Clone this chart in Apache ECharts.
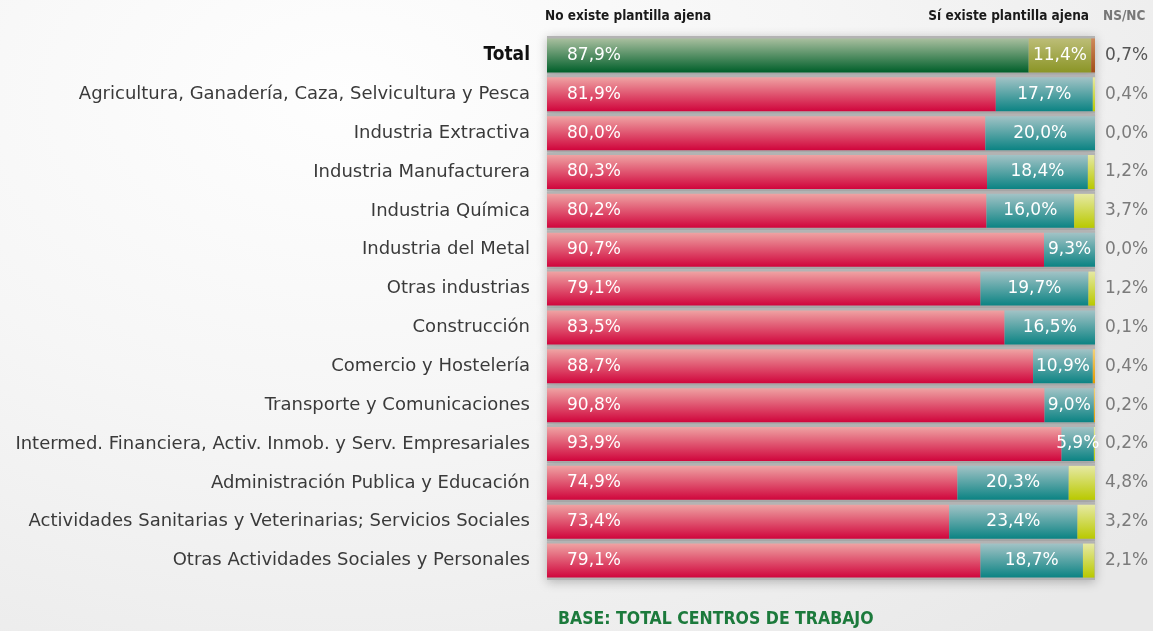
<!DOCTYPE html>
<html>
<head>
<meta charset="utf-8">
<script src="https://cdn.jsdelivr.net/npm/echarts@6/dist/echarts.min.js"></script>
<style>
  html, body { margin: 0; padding: 0; }
  body {
    width: 1153px; height: 631px; overflow: hidden;
    background: radial-gradient(ellipse 90% 110% at 30% 15%, #fefefe 0%, #f6f6f6 45%, #e9e9e9 100%);
  }
  #main { width: 1153px; height: 631px; }
</style>
</head>
<body>
<div id="main"></div>
<script>
// sectores
var categories = [
    'Total',
    'Agricultura, Ganadería, Caza, Selvicultura y Pesca',
    'Industria Extractiva',
    'Industria Manufacturera',
    'Industria Química',
    'Industria del Metal',
    'Otras industrias',
    'Construcción',
    'Comercio y Hostelería',
    'Transporte y Comunicaciones',
    'Intermed. Financiera, Activ. Inmob. y Serv. Empresariales',
    'Administración Publica y Educación',
    'Actividades Sanitarias y Veterinarias; Servicios Sociales',
    'Otras Actividades Sociales y Personales'
];
var noExiste = [87.9, 81.9, 80.0, 80.3, 80.2, 90.7, 79.1, 83.5, 88.7, 90.8, 93.9, 74.9, 73.4, 79.1];
var siExiste = [11.4, 17.7, 20.0, 18.4, 16.0, 9.3, 19.7, 16.5, 10.9, 9.0, 5.9, 20.3, 23.4, 18.7];
var nsnc = [0.7, 0.4, 0.0, 1.2, 3.7, 0.0, 1.2, 0.1, 0.4, 0.2, 0.2, 4.8, 3.2, 2.1];
var panel = [100, 100, 100, 100, 100, 100, 100, 100, 100, 100, 100, 100, 100, 100];
// filas donde el NS/NC sale en naranja en el original
var nsncOrange = [7, 8, 9];

var condensed = '"DejaVu Sans Condensed", "DejaVu Sans", sans-serif';

function pct(v) {
    return v.toFixed(1).replace('.', ',') + '%';
}
function grad(top, bottom) {
    return new echarts.graphic.LinearGradient(0, 0, 0, 1, [
        {offset: 0, color: top},
        {offset: 1, color: bottom}
    ]);
}

var red = grad('#efa3a3', '#d0053c');
var teal = grad('#a2c3c6', '#0b8383');
var lime = grad('#e6e9a4', '#b9c900');
var orange = grad('#f3d27a', '#e39a00');
var totalColors = [grad('#a9bf9f', '#005f2a'), grad('#bcbd77', '#8b9526'), grad('#cf8a5a', '#a24d18')];

function withTotal(values, idx) {
    return values.map(function(v, i) {
        if (i === 0) {
            return {value: v, itemStyle: {color: totalColors[idx]}};
        }
        if (idx === 2 && nsncOrange.indexOf(i) >= 0) {
            return {value: v, itemStyle: {color: orange}};
        }
        return v;
    });
}

var myChart = echarts.init(document.getElementById('main'));

var option = {
    animation: false,
    grid: {left: 547, right: 58, top: 36, bottom: 51},
    xAxis: {
        type: 'value', min: 0, max: 100, show: false
    },
    yAxis: [
        {
            type: 'category',
            inverse: true,
            data: categories,
            axisLine: {show: false},
            axisTick: {show: false},
            axisLabel: {
                margin: 17,
                fontFamily: 'DejaVu Sans',
                fontSize: 18,
                color: '#3a3a3a',
                formatter: function(v, i) {
                    return i === 0 ? '{t|' + v + '}' : v;
                },
                rich: {
                    t: {fontFamily: condensed, fontWeight: 'bold', fontSize: 19, color: '#111'}
                }
            }
        },
        {
            type: 'category',
            inverse: true,
            position: 'right',
            data: nsnc.map(pct),
            axisLine: {show: false},
            axisTick: {show: false},
            axisLabel: {
                margin: 10,
                fontFamily: 'DejaVu Sans',
                fontSize: 17,
                color: '#7b7b7b',
                formatter: function(v, i) {
                    return i === 0 ? '{t|' + v + '}' : v;
                },
                rich: {
                    t: {fontFamily: 'DejaVu Sans', fontSize: 17, color: '#555'}
                }
            }
        }
    ],
    graphic: [
        {type: 'text', left: 545, top: 9, style: {text: 'No existe plantilla ajena', font: 'bold 13.5px ' + condensed, fill: '#1a1a1a'}},
        {type: 'text', right: 1153 - 1089, top: 9, style: {text: 'Sí existe plantilla ajena', font: 'bold 13.5px ' + condensed, fill: '#1a1a1a'}},
        {type: 'text', left: 1103, top: 9, style: {text: 'NS/NC', font: 'bold 13.5px ' + condensed, fill: '#777'}},
        {type: 'text', left: 558, top: 610, style: {text: 'BASE: TOTAL CENTROS DE TRABAJO', font: 'bold 17.5px ' + condensed, fill: '#1c7a3c'}}
    ],
    series: [
        {
            name: 'panel',
            type: 'bar',
            yAxisIndex: 1,
            data: panel,
            barWidth: '100%',
            silent: true,
            z: 1,
            itemStyle: {
                color: '#b3b3b3',
                shadowBlur: 10,
                shadowColor: 'rgba(0,0,0,0.25)',
                shadowOffsetY: 2
            }
        },
        {
            name: 'No existe plantilla ajena',
            type: 'bar',
            stack: 'total',
            barWidth: 34,
            z: 3,
            data: withTotal(noExiste, 0),
            itemStyle: {color: red},
            label: {
                show: true,
                position: 'insideLeft',
                distance: 20,
                color: '#fff',
                fontFamily: 'DejaVu Sans',
                fontSize: 17,
                formatter: function(p) { return pct(p.value); }
            }
        },
        {
            name: 'Sí existe plantilla ajena',
            type: 'bar',
            stack: 'total',
            barWidth: 34,
            z: 3,
            data: withTotal(siExiste, 1),
            itemStyle: {color: teal},
            label: {
                show: true,
                position: 'inside',
                color: '#fff',
                fontFamily: 'DejaVu Sans',
                fontSize: 17,
                formatter: function(p) { return pct(p.value); }
            }
        },
        {
            name: 'NS/NC',
            type: 'bar',
            stack: 'total',
            barWidth: 34,
            z: 3,
            data: withTotal(nsnc, 2),
            itemStyle: {color: lime}
        }
    ]
};

myChart.setOption(option);
</script>
</body>
</html>
